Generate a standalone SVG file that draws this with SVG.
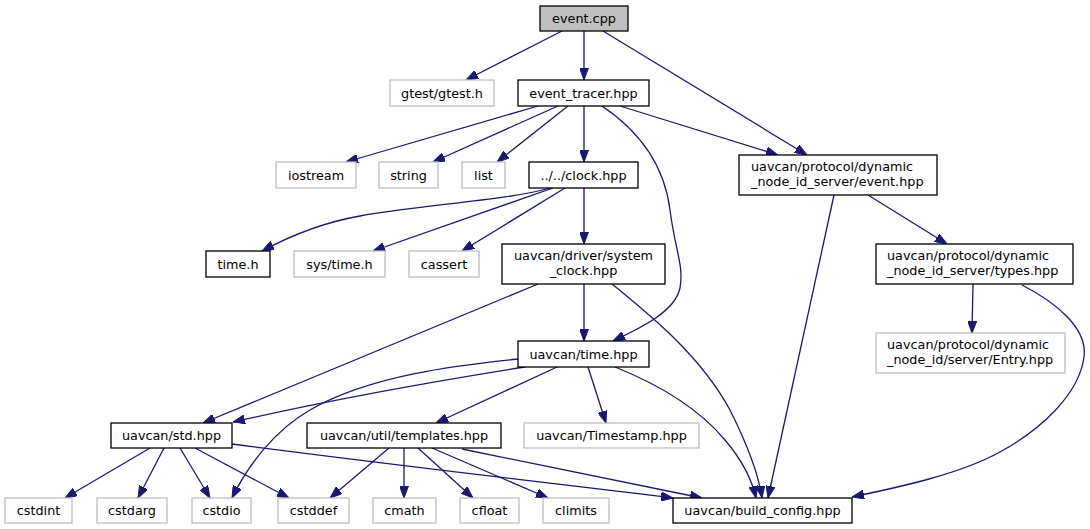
<svg xmlns="http://www.w3.org/2000/svg" width="1090" height="529" viewBox="0 0 1090 529">
<style>
text{font-family:"DejaVu Sans","Liberation Sans",sans-serif;font-size:12.8px;fill:#000}
.c{text-anchor:middle}
.l{text-anchor:start}
.n rect{fill:#fff;stroke:#000;stroke-width:1.3}
.g rect{fill:#fff;stroke:#bfbfbf;stroke-width:1.3}
.r rect{fill:#bfbfbf;stroke:#000;stroke-width:1.3}
#edges path{fill:none;stroke:#191970;stroke-width:1.3;marker-end:url(#ah)}
</style>
<defs>
<marker id="ah" viewBox="0 0 12 9" refX="12" refY="4.5" markerWidth="12" markerHeight="9" markerUnits="userSpaceOnUse" orient="auto">
<path d="M0,0 L12,4.5 L0,9 z" fill="#191970" stroke="#191970" stroke-width="1"/>
</marker>
</defs>
<rect width="1090" height="529" fill="#fff"/>
<g id="edges">
<path d="M562,31 L466,80"/>
<path d="M584,31 L584,80"/>
<path d="M603,31 L807,155"/>
<path d="M538,106 L346,162"/>
<path d="M558,106 L433,162"/>
<path d="M568,106 L497,162"/>
<path d="M584,106 L584,162"/>
<path d="M602,106 C645,135 665,170 670,210 C675,250 684,265 680,288 C675,312 640,328 613,341"/>
<path d="M620,106 L778,155"/>
<path d="M550,188 C510,200 420,205 360,216 C320,223 290,236 262,251"/>
<path d="M553,188 L373,251"/>
<path d="M565,188 L462,251"/>
<path d="M584,188 L584,244"/>
<path d="M868,195 L947,244"/>
<path d="M834,195 L768,498"/>
<path d="M973,284 L972,333"/>
<path d="M1022,285 C1055,302 1088,328 1084,357 C1079,395 1040,430 1000,452 C960,474 900,487 852,497"/>
<path d="M538,284 L203,423"/>
<path d="M584,284 L584,341"/>
<path d="M612,284 C650,315 700,355 730,410 C745,440 758,470 762,498"/>
<path d="M518,359 C460,365 370,375 310,410 C275,430 248,465 232,498"/>
<path d="M525,367 C430,382 330,400 233,422"/>
<path d="M557,367 L436,423"/>
<path d="M588,367 L606,423"/>
<path d="M615,367 C660,385 700,410 725,440 C742,460 752,480 756,498"/>
<path d="M150,448 L65,498"/>
<path d="M164,448 L138,498"/>
<path d="M180,448 L210,498"/>
<path d="M195,448 L289,498"/>
<path d="M232,444 C400,466 560,484 673,498"/>
<path d="M389,448 L330,498"/>
<path d="M404,448 L404,498"/>
<path d="M418,448 L473,498"/>
<path d="M432,448 L548,498"/>
<path d="M462,449 L702,498"/>
</g>
<g id="node_event_cpp" class="r"><rect x="540" y="6" width="88" height="25"/><text class="c" x="584" y="23">event.cpp</text></g>
<g id="node_gtest" class="g"><rect x="390" y="80" width="104" height="26"/><text class="c" x="442" y="97.5">gtest/gtest.h</text></g>
<g id="node_event_tracer" class="n"><rect x="518" y="80" width="131" height="26"/><text class="c" x="583.5" y="97.5">event_tracer.hpp</text></g>
<g id="node_iostream" class="g"><rect x="276" y="162" width="80" height="26"/><text class="c" x="316" y="179.5">iostream</text></g>
<g id="node_string" class="g"><rect x="379" y="162" width="59" height="26"/><text class="c" x="408.5" y="179.5">string</text></g>
<g id="node_list" class="g"><rect x="462" y="162" width="43" height="26"/><text class="c" x="483.5" y="179.5">list</text></g>
<g id="node_clock" class="n"><rect x="529" y="162" width="109" height="26"/><text class="c" x="583.5" y="179.5">../../clock.hpp</text></g>
<g id="node_event_hpp" class="n"><rect x="739" y="155" width="198" height="40"/><text class="l" x="751" y="171">uavcan/protocol/dynamic</text><text class="l" x="751" y="186">_node_id_server/event.hpp</text></g>
<g id="node_time_h" class="n"><rect x="206" y="251" width="64" height="26"/><text class="c" x="238" y="268.5">time.h</text></g>
<g id="node_sys_time" class="g"><rect x="294" y="251" width="91" height="26"/><text class="c" x="339.5" y="268.5">sys/time.h</text></g>
<g id="node_cassert" class="g"><rect x="409" y="251" width="70" height="26"/><text class="c" x="444" y="268.5">cassert</text></g>
<g id="node_system_clock" class="n"><rect x="502" y="244" width="163" height="40"/><text class="c" x="583.5" y="260">uavcan/driver/system</text><text class="c" x="583.5" y="275">_clock.hpp</text></g>
<g id="node_types" class="n"><rect x="876" y="244" width="197" height="40"/><text class="l" x="887" y="260">uavcan/protocol/dynamic</text><text class="l" x="887" y="275">_node_id_server/types.hpp</text></g>
<g id="node_entry" class="g"><rect x="876" y="333" width="189" height="40"/><text class="l" x="887" y="349">uavcan/protocol/dynamic</text><text class="l" x="887" y="364">_node_id/server/Entry.hpp</text></g>
<g id="node_time_hpp" class="n"><rect x="518" y="341" width="131" height="26"/><text class="c" x="583.5" y="358.5">uavcan/time.hpp</text></g>
<g id="node_std" class="n"><rect x="111" y="423" width="121" height="25"/><text class="c" x="171.5" y="440">uavcan/std.hpp</text></g>
<g id="node_templates" class="n"><rect x="307" y="423" width="194" height="25"/><text class="c" x="404" y="440">uavcan/util/templates.hpp</text></g>
<g id="node_timestamp" class="g"><rect x="524" y="423" width="175" height="25"/><text class="c" x="611.5" y="440">uavcan/Timestamp.hpp</text></g>
<g id="node_cstdint" class="g"><rect x="5" y="498" width="67" height="25"/><text class="c" x="38.5" y="515">cstdint</text></g>
<g id="node_cstdarg" class="g"><rect x="97" y="498" width="70" height="25"/><text class="c" x="132" y="515">cstdarg</text></g>
<g id="node_cstdio" class="g"><rect x="192" y="498" width="59" height="25"/><text class="c" x="221.5" y="515">cstdio</text></g>
<g id="node_cstddef" class="g"><rect x="278" y="498" width="71" height="25"/><text class="c" x="313.5" y="515">cstddef</text></g>
<g id="node_cmath" class="g"><rect x="373" y="498" width="63" height="25"/><text class="c" x="404.5" y="515">cmath</text></g>
<g id="node_cfloat" class="g"><rect x="460" y="498" width="59" height="25"/><text class="c" x="489.5" y="515">cfloat</text></g>
<g id="node_climits" class="g"><rect x="543" y="498" width="66" height="25"/><text class="c" x="576" y="515">climits</text></g>
<g id="node_build_config" class="n"><rect x="673" y="498" width="179" height="25"/><text class="c" x="762.5" y="515">uavcan/build_config.hpp</text></g>
</svg>
